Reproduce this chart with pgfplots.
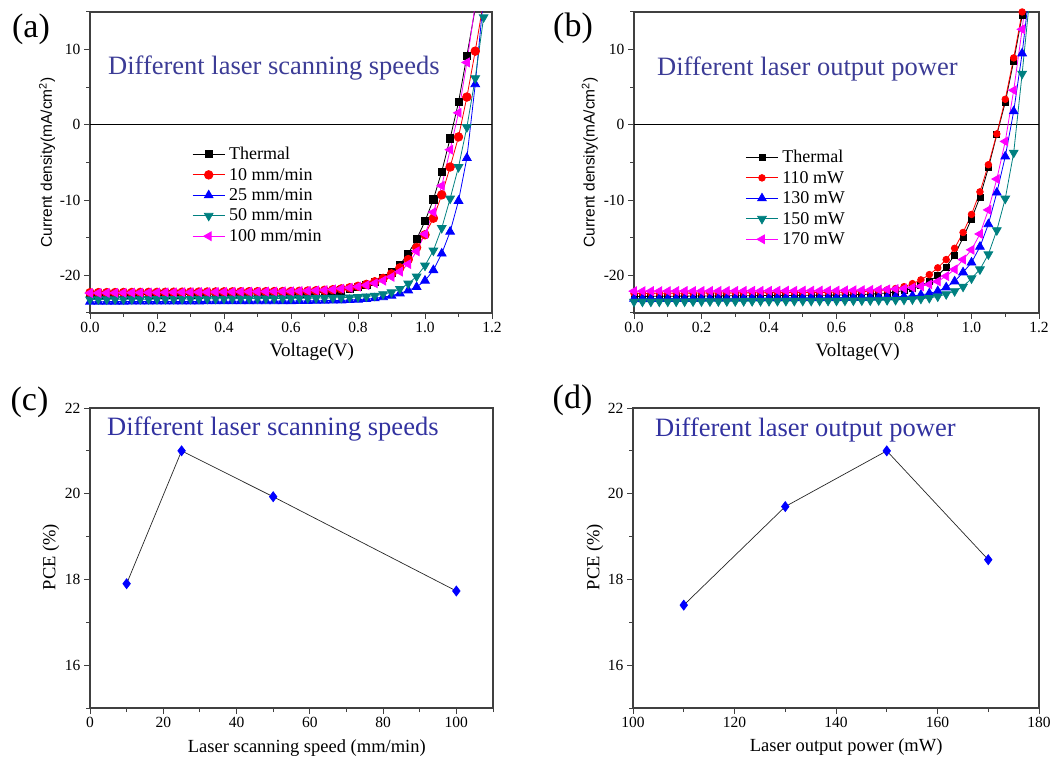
\documentclass[border=0pt]{standalone}
\usepackage{fontspec}
\setmainfont{Liberation Serif}
\newfontfamily\arialfont{Liberation Sans}
\usepackage{pgfplots}
\usepackage{pgfplotstable}
\pgfplotsset{compat=1.18}

\definecolor{cteal}{RGB}{0,128,128}
\definecolor{cmag}{RGB}{255,0,255}
\definecolor{annot}{RGB}{60,60,150}
\definecolor{annotb}{RGB}{50,50,160}

\pgfplotstableread{
V A B C D E
0.000 -22.60 -22.30 -23.50 -23.20 -22.35
0.025 -22.59 -22.29 -23.50 -23.19 -22.34
0.050 -22.59 -22.29 -23.49 -23.19 -22.33
0.075 -22.58 -22.28 -23.49 -23.18 -22.32
0.100 -22.58 -22.27 -23.49 -23.18 -22.31
0.125 -22.57 -22.27 -23.48 -23.17 -22.30
0.150 -22.56 -22.26 -23.48 -23.16 -22.29
0.175 -22.56 -22.25 -23.48 -23.16 -22.28
0.200 -22.55 -22.25 -23.47 -23.15 -22.27
0.225 -22.54 -22.24 -23.47 -23.14 -22.26
0.250 -22.54 -22.23 -23.47 -23.14 -22.25
0.275 -22.53 -22.23 -23.46 -23.13 -22.24
0.300 -22.53 -22.22 -23.46 -23.13 -22.24
0.325 -22.52 -22.21 -23.46 -23.12 -22.23
0.350 -22.51 -22.21 -23.45 -23.11 -22.22
0.375 -22.51 -22.20 -23.45 -23.11 -22.21
0.400 -22.50 -22.19 -23.45 -23.10 -22.20
0.425 -22.49 -22.19 -23.44 -23.09 -22.19
0.450 -22.49 -22.18 -23.44 -23.09 -22.18
0.475 -22.48 -22.17 -23.44 -23.08 -22.17
0.500 -22.48 -22.17 -23.43 -23.08 -22.16
0.525 -22.47 -22.16 -23.43 -23.07 -22.15
0.550 -22.46 -22.15 -23.43 -23.06 -22.14
0.575 -22.46 -22.15 -23.42 -23.06 -22.13
0.600 -22.45 -22.14 -23.42 -23.05 -22.12
0.625 -22.42 -22.11 -23.41 -23.04 -22.09
0.650 -22.38 -22.08 -23.40 -23.03 -22.05
0.675 -22.32 -22.03 -23.38 -23.02 -22.00
0.700 -22.25 -21.98 -23.36 -23.00 -21.95
0.725 -22.15 -21.90 -23.34 -22.99 -21.87
0.750 -22.00 -21.80 -23.32 -22.97 -21.77
0.775 -21.80 -21.65 -23.28 -22.93 -21.65
0.800 -21.55 -21.45 -23.22 -22.88 -21.50
0.825 -21.25 -21.20 -23.15 -22.80 -21.30
0.850 -20.85 -20.85 -23.05 -22.70 -21.05
0.875 -20.30 -20.40 -22.90 -22.50 -20.70
0.900 -19.60 -19.80 -22.70 -22.25 -20.20
0.925 -18.60 -19.00 -22.40 -21.80 -19.50
0.950 -17.10 -17.90 -22.00 -21.10 -18.50
0.975 -15.20 -16.30 -21.55 -20.15 -16.80
1.000 -12.80 -14.60 -20.70 -18.70 -14.50
1.025 -9.90 -12.40 -19.30 -16.70 -11.60
1.050 -6.20 -9.30 -17.10 -13.70 -8.10
1.075 -1.80 -5.60 -14.20 -9.80 -3.30
1.100 3.00 -1.60 -10.10 -5.60 1.60
1.125 9.20 3.70 -4.40 -0.30 8.30
1.150 15.50 9.80 5.40 6.20 16.00
1.175 22.00 16.50 17.00 14.30 24.00
}\tabA

\pgfplotstableread{
V A B C D E
0.000 -22.80 -22.40 -23.10 -23.50 -22.10
0.025 -22.79 -22.39 -23.09 -23.49 -22.10
0.050 -22.79 -22.39 -23.09 -23.49 -22.09
0.075 -22.78 -22.38 -23.08 -23.48 -22.09
0.100 -22.77 -22.38 -23.08 -23.48 -22.09
0.125 -22.76 -22.37 -23.07 -23.47 -22.08
0.150 -22.76 -22.36 -23.07 -23.47 -22.08
0.175 -22.75 -22.36 -23.06 -23.46 -22.08
0.200 -22.74 -22.35 -23.05 -23.45 -22.07
0.225 -22.73 -22.34 -23.05 -23.45 -22.07
0.250 -22.73 -22.34 -23.04 -23.44 -22.07
0.275 -22.72 -22.33 -23.04 -23.44 -22.06
0.300 -22.71 -22.33 -23.03 -23.43 -22.06
0.325 -22.70 -22.32 -23.02 -23.42 -22.06
0.350 -22.70 -22.31 -23.02 -23.42 -22.05
0.375 -22.69 -22.31 -23.01 -23.41 -22.05
0.400 -22.68 -22.30 -23.01 -23.41 -22.05
0.425 -22.67 -22.29 -23.00 -23.40 -22.04
0.450 -22.67 -22.29 -22.99 -23.39 -22.04
0.475 -22.66 -22.28 -22.99 -23.39 -22.04
0.500 -22.65 -22.28 -22.98 -23.38 -22.03
0.525 -22.64 -22.27 -22.98 -23.38 -22.03
0.550 -22.64 -22.26 -22.97 -23.37 -22.03
0.575 -22.63 -22.26 -22.97 -23.37 -22.02
0.600 -22.62 -22.25 -22.96 -23.36 -22.02
0.625 -22.60 -22.23 -22.95 -23.35 -22.00
0.650 -22.58 -22.20 -22.94 -23.34 -21.98
0.675 -22.54 -22.15 -22.93 -23.33 -21.96
0.700 -22.50 -22.10 -22.92 -23.32 -21.93
0.725 -22.42 -22.03 -22.90 -23.30 -21.90
0.750 -22.33 -21.92 -22.88 -23.28 -21.86
0.775 -22.20 -21.75 -22.85 -23.26 -21.81
0.800 -22.00 -21.50 -22.80 -23.23 -21.75
0.825 -21.75 -21.10 -22.72 -23.18 -21.62
0.850 -21.35 -20.60 -22.60 -23.10 -21.45
0.875 -20.80 -19.90 -22.40 -23.00 -21.20
0.900 -20.00 -19.00 -22.10 -22.80 -20.80
0.925 -18.90 -17.90 -21.60 -22.50 -20.10
0.950 -17.30 -16.40 -20.80 -22.10 -19.20
0.975 -15.00 -14.30 -19.60 -21.50 -17.90
1.000 -12.50 -11.90 -18.30 -20.40 -16.60
1.025 -9.60 -8.90 -16.20 -19.20 -14.50
1.050 -5.70 -5.30 -13.20 -17.20 -11.30
1.075 -1.30 -1.20 -9.00 -14.00 -7.20
1.100 3.00 3.40 -4.20 -9.80 -2.20
1.125 8.50 8.90 1.80 -3.70 4.60
1.150 14.50 15.00 9.50 6.80 12.70
1.175 21.00 21.00 19.00 18.00 22.00
}\tabB

\pgfplotsset{
  myaxis/.style={
    scale only axis,
    axis line style={line width=1.2pt, black!75},
    every tick/.style={line width=1pt, black!75},
    major tick length=6pt, minor tick length=4pt,
    tick align=outside,
    tick pos=left,
    /pgf/number format/assume math mode=true,
    tick label style={font=\fontsize{15.5}{16}\selectfont},
    label style={font=\fontsize{18.5}{18.5}\selectfont},
  },
  jvaxis/.style={
    myaxis,
    xmin=0, xmax=1.2, ymin=-25, ymax=15,
    xtick={0,0.2,0.4,0.6,0.8,1.0,1.2},
    minor xtick={0.1,0.3,0.5,0.7,0.9,1.1},
    ytick={-20,-10,0,10},
    minor ytick={-25,-15,-5,5,15},
    xticklabel style={/pgf/number format/.cd, fixed, fixed zerofill, precision=1},
    xlabel={Voltage(V)},
    xlabel style={font=\fontsize{19}{19}\selectfont},
    ylabel={Current density(mA/cm\textsuperscript{2})},
    ylabel style={font=\arialfont\fontsize{15.5}{15.5}\selectfont},
    legend cell align=left,
    legend image code/.code={\draw[mark repeat=2,mark phase=2] plot coordinates {(0pt,0pt)(16pt,0pt)(32pt,0pt)};},
  },
  pceaxis/.style={
    myaxis,
    ymin=15, ymax=22,
    ytick={16,18,20,22},
    minor ytick={15,17,19,21},
    ylabel={PCE (\%)},
  },
}

\begin{document}
\begin{tikzpicture}
\useasboundingbox (0,0) rectangle (1057pt,758pt);

% (a)
\begin{axis}[jvaxis,
  at={(90pt,445pt)}, anchor=south west, width=402pt, height=301pt,
  xlabel style={at={(axis description cs:0.552,-0.13)}, anchor=center},
  ylabel style={at={(axis description cs:-0.107,0.5)}, anchor=center},
  legend style={draw=none, fill=none, at={(0.254,0.555)}, anchor=north west,
    font=\fontsize{18}{18}\selectfont, inner sep=0pt, row sep=5pt, column sep=3pt,
    nodes={inner sep=1pt}},
]
\draw[black, line width=0.9pt] (axis cs:0,0) -- (axis cs:1.2,0);
\addplot[black, line width=0.8pt, mark=square*, mark size=3.6pt] table[x=V,y=A]{\tabA};
\addlegendentry{Thermal}
\addplot[red, line width=0.8pt, mark=*, mark size=4.3pt] table[x=V,y=B]{\tabA};
\addlegendentry{10 mm/min}
\addplot[blue, line width=0.8pt, mark=triangle*, mark size=5pt] table[x=V,y=C]{\tabA};
\addlegendentry{25 mm/min}
\addplot[cteal, line width=0.8pt, mark=triangle*, mark size=5pt, mark options={rotate=180}] table[x=V,y=D]{\tabA};
\addlegendentry{50 mm/min}
\addplot[cmag, line width=0.8pt, mark=triangle*, mark size=5pt, mark options={rotate=90}] table[x=V,y=E]{\tabA};
\addlegendentry{100 mm/min}
\end{axis}

% (b)
\begin{axis}[jvaxis,
  at={(634pt,445pt)}, anchor=south west, width=405pt, height=301pt,
  xlabel style={at={(axis description cs:0.552,-0.13)}, anchor=center},
  ylabel style={at={(axis description cs:-0.109,0.5)}, anchor=center},
  legend style={draw=none, fill=none, at={(0.275,0.545)}, anchor=north west,
    font=\fontsize{18}{18}\selectfont, inner sep=0pt, row sep=5pt, column sep=3pt,
    nodes={inner sep=1pt}},
]
\draw[black, line width=0.9pt] (axis cs:0,0) -- (axis cs:1.2,0);
\addplot[black, line width=0.8pt, mark=square*, mark size=3pt] table[x=V,y=A]{\tabB};
\addlegendentry{Thermal}
\addplot[red, line width=0.8pt, mark=*, mark size=3.3pt] table[x=V,y=B]{\tabB};
\addlegendentry{110 mW}
\addplot[blue, line width=0.8pt, mark=triangle*, mark size=5pt] table[x=V,y=C]{\tabB};
\addlegendentry{130 mW}
\addplot[cteal, line width=0.8pt, mark=triangle*, mark size=5pt, mark options={rotate=180}] table[x=V,y=D]{\tabB};
\addlegendentry{150 mW}
\addplot[cmag, line width=0.8pt, mark=triangle*, mark size=5pt, mark options={rotate=90}] table[x=V,y=E]{\tabB};
\addlegendentry{170 mW}
\end{axis}

% (c)
\begin{axis}[pceaxis,
  at={(90pt,50pt)}, anchor=south west, width=403pt, height=300pt,
  xmin=0, xmax=110,
  xtick={0,20,40,60,80,100},
  minor xtick={10,30,50,70,90,110},
  xlabel={Laser scanning speed (mm/min)},
  xlabel style={at={(axis description cs:0.538,-0.133)}, anchor=center},
  ylabel style={at={(axis description cs:-0.097,0.503)}, anchor=center},
]
\addplot[black!85, line width=0.7pt, mark=diamond*, mark size=5pt, mark options={blue, fill=blue}]
  coordinates {(10,17.90) (25,21.00) (50,19.93) (100,17.73)};
\end{axis}

% (d)
\begin{axis}[pceaxis,
  at={(633pt,50pt)}, anchor=south west, width=406pt, height=300pt,
  xmin=100, xmax=180,
  xtick={100,120,140,160,180},
  minor xtick={110,130,150,170},
  xlabel={Laser output power (mW)},
  xlabel style={at={(axis description cs:0.525,-0.13)}, anchor=center},
  ylabel style={at={(axis description cs:-0.094,0.503)}, anchor=center},
]
\addplot[black!85, line width=0.7pt, mark=diamond*, mark size=5pt, mark options={blue, fill=blue}]
  coordinates {(110,17.40) (130,19.70) (150,21.00) (170,18.46)};
\end{axis}

% annotations
\node[anchor=west, inner sep=0pt, text=annot, font=\fontsize{26.5}{26.5}\selectfont] at (108pt,689.5pt) {Different laser scanning speeds};
\node[anchor=west, inner sep=0pt, text=annot, font=\fontsize{26.5}{26.5}\selectfont] at (657pt,689.5pt) {Different laser output power};
\node[anchor=west, inner sep=0pt, text=annotb, font=\fontsize{26.5}{26.5}\selectfont] at (107pt,328.5pt) {Different laser scanning speeds};
\node[anchor=west, inner sep=0pt, text=annotb, font=\fontsize{26.5}{26.5}\selectfont] at (655pt,328pt) {Different laser output power};

% panel labels
\node[inner sep=0pt, font=\fontsize{34}{34}\selectfont] at (31pt,729pt) {(a)};
\node[inner sep=0pt, font=\fontsize{34}{34}\selectfont] at (573pt,729.5pt) {(b)};
\node[inner sep=0pt, font=\fontsize{34}{34}\selectfont] at (29.5pt,356pt) {(c)};
\node[inner sep=0pt, font=\fontsize{34}{34}\selectfont] at (572.5pt,358pt) {(d)};
\end{tikzpicture}
\end{document}
